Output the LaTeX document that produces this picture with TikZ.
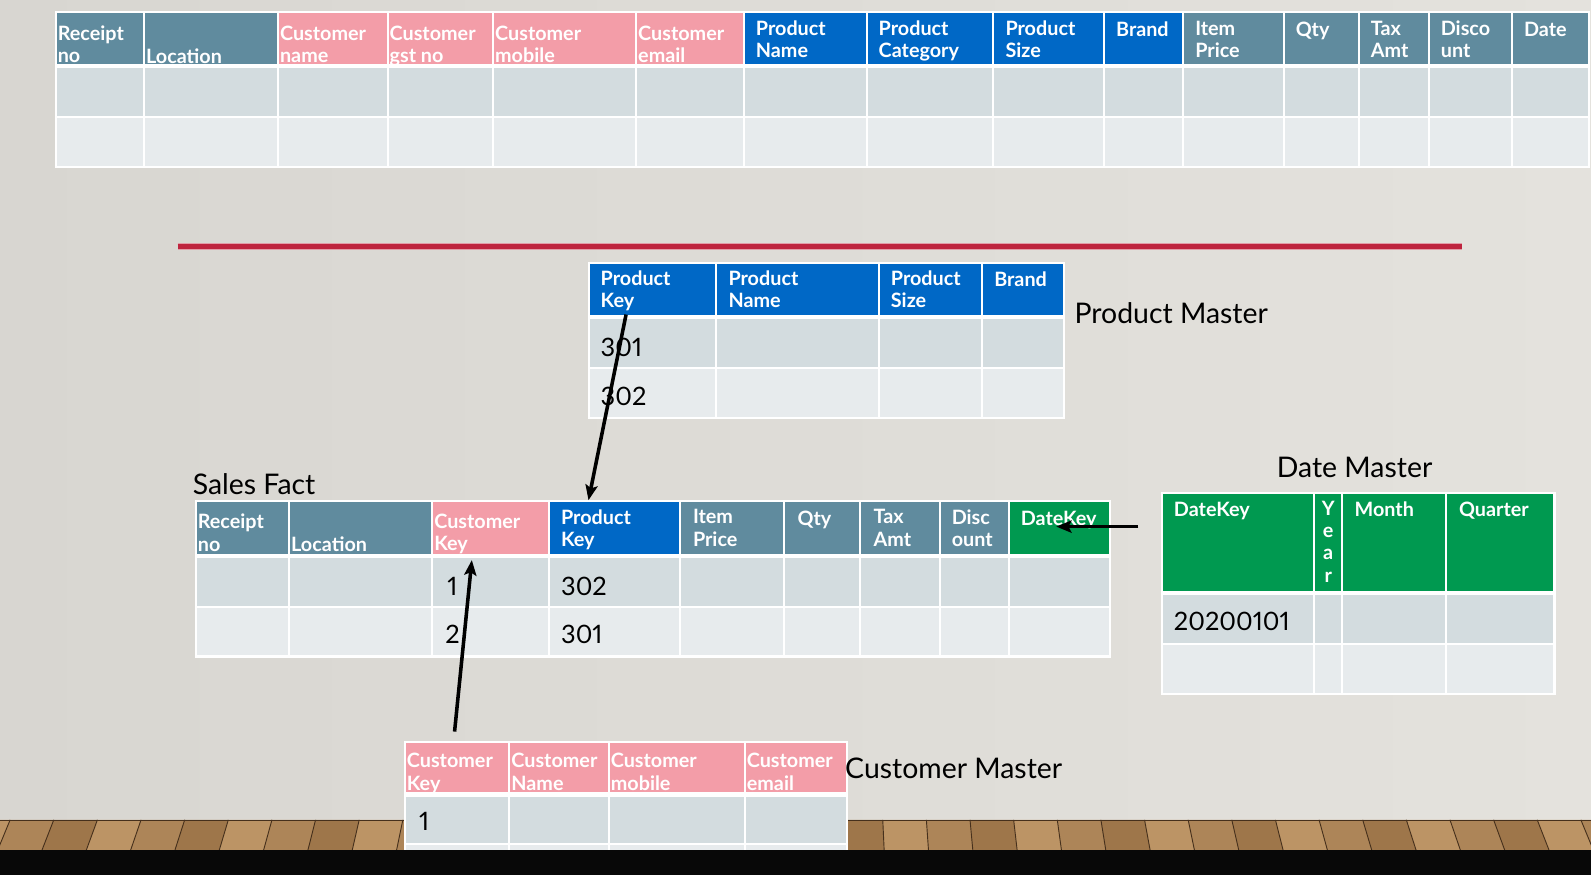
\documentclass[tikz,border=0pt]{standalone}
\usepackage{fontspec}
\setmainfont{Lato}
\usetikzlibrary{arrows.meta}

\definecolor{wallL}{RGB}{216,214,209}
\definecolor{wallM}{RGB}{232,230,225}
\definecolor{wallR}{RGB}{228,226,221}
\definecolor{slate}{RGB}{96,139,158}
\definecolor{rose}{RGB}{243,157,168}
\definecolor{prodblue}{RGB}{0,104,198}
\definecolor{dgreen}{RGB}{0,153,80}
\definecolor{rowa}{RGB}{211,220,223}
\definecolor{rowb}{RGB}{231,235,237}
\definecolor{redline}{RGB}{190,36,62}
\definecolor{woodA}{RGB}{140,100,58}
\definecolor{woodB}{RGB}{200,160,112}
\definecolor{seam}{RGB}{70,48,28}

\tikzset{
  cellbox/.style={rectangle, inner sep=0pt, outer sep=0pt, draw=none},
  hd/.style={inner sep=0pt, outer sep=0pt, text=white, align=left,
    font=\fontsize{19.5}{22}\selectfont\bfseries, execute at begin node=\strut},
  val/.style={inner sep=0pt, outer sep=0pt, text=black, anchor=base west,
    font=\fontsize{25}{30}\selectfont\addfontfeatures{Numbers=Proportional}},
  caption/.style={inner sep=0pt, outer sep=0pt, text=black,
    font=\fontsize{28}{33}\selectfont},
  link/.style={line width=3.5pt, black, -{Stealth[length=15pt,width=12pt,inset=3pt]}},
}

% one table cell: name, x1, y1, x2, y2, fill (1px white margin all round)
\newcommand{\tcell}[6]{%
  \node[cellbox, fill=#6, minimum width={#4-#2-2}, minimum height={#5-#3-2}]
    (#1) at ({(#2+#4)/2},{(#3+#5)/2}) {};}

\begin{document}
\begin{tikzpicture}[x=1pt,y=-1pt]
\useasboundingbox (0,0) rectangle (1568,862);

% wall
\shade[left color=wallL, middle color=wallM, right color=wallR] (0,0) rectangle (1568,810);

% wooden floor strip
\fill[woodA] (0,808) rectangle (1568,840);
\foreach \k in {-19,...,18} {
  \pgfmathsetmacro\xa{784+43*\k}
  \pgfmathsetmacro\xb{784+43*(\k+1)}
  \pgfmathsetmacro\xc{\xb+(\xb-784)*0.016}
  \pgfmathsetmacro\xd{\xa+(\xa-784)*0.016}
  \pgfmathtruncatemacro\p{30+25*mod(\k*5+100,3)}
  \fill[woodB!\p!woodA] (\xa,808) -- (\xb,808) -- (\xc,838) -- (\xd,838) -- cycle;
  \draw[seam, line width=0.9pt] (\xa,808) -- (\xd,838);
}
\draw[seam, line width=1.5pt] (0,808.5) -- (1568,808.5);

% ---------------- flat sales sheet ----------------
\fill[white] (54,11) rectangle (1567,166);
\foreach \xa/\xb/\c [count=\i] in {55/142/slate, 142/274/slate, 274/382/rose,
    382/486/rose, 486/627/rose, 627/733/rose, 733/854/prodblue,
    854/979/prodblue, 979/1088/prodblue, 1088/1166/prodblue, 1166/1265/slate,
    1265/1339/slate, 1339/1408/slate, 1408/1490/slate, 1490/1566/slate} {
  \tcell{th\i}{\xa}{12}{\xb}{64}{\c}
  \tcell{ta\i}{\xa}{66}{\xb}{115}{rowa}
  \tcell{tb\i}{\xa}{115}{\xb}{165}{rowb}
}
\foreach \x/\t [count=\i] in {57/{Receipt\\no}, 276/{Customer\\name},
    384/{Customer\\gst no}, 488/{Customer\\mobile}, 629/{Customer\\email}}
  \node[hd, anchor=north west] (ttb\i) at (\x,25.6) {\t};
\node[hd, anchor=north west] (ttloc) at (144,47.6) {Location};
\foreach \x/\t [count=\i] in {745/{Product\\Name}, 866/{Product\\Category},
    991/{Product\\Size}, 1100/{Brand}, 1178/{Item\\Price}, 1277/{Qty},
    1351/{Tax\\Amt}, 1420/{Disco\\unt}, 1502/{Date}}
  \node[hd, anchor=north west] (ttt\i) at (\x,20.6) {\t};

% separator
\draw[redline!45, line width=7pt] (175,243) -- (1441,243);
\draw[redline, line width=4.5pt] (175,243) -- (1441,243);

% ---------------- Product Master ----------------
\fill[white] (579,258) rectangle (1050,413);
\foreach \xa/\xb [count=\i] in {580/706, 706/866, 866/968, 968/1049} {
  \tcell{pm-h\i}{\xa}{259}{\xb}{311}{prodblue}
  \tcell{pm-a\i}{\xa}{313}{\xb}{363}{rowa}
  \tcell{pm-b\i}{\xa}{363}{\xb}{412}{rowb}
}
\foreach \x/\t [count=\i] in {592/{Product\\Key}, 718/{Product\\Name},
    878/{Product\\Size}, 980/{Brand}}
  \node[hd, anchor=north west] (pmt\i) at (\x,266.6) {\t};
\node[val] (pmv1) at (592,351.5) {301};
\node[val] (pmv2) at (592,399.5) {302};
\node[caption, anchor=base west] (pmcap) at (1059,319) {Product Master};

% ---------------- Sales Fact ----------------
\fill[white] (192,493) rectangle (1095,648);
\foreach \xa/\xb/\c [count=\i] in {193/285/slate, 285/426/slate, 426/541/rose,
    541/670/prodblue, 670/773/slate, 773/848/slate, 848/926/slate,
    926/994/slate, 994/1094/dgreen} {
  \tcell{sf-h\i}{\xa}{494}{\xb}{547}{\c}
  \tcell{sf-a\i}{\xa}{549}{\xb}{598}{rowa}
  \tcell{sf-b\i}{\xa}{598}{\xb}{647}{rowb}
}
\node[hd, anchor=north west] (sft1) at (195,506.6) {Receipt\\no};
\node[hd, anchor=north west] (sft2) at (287,528.6) {Location};
\node[hd, anchor=north west] (sft3) at (428,506.6) {Customer\\Key};
\foreach \x/\t [count=\i] in {553/{Product\\Key}, 683/{Item\\Price},
    786/{Qty}, 861/{Tax\\Amt}, 938/{Disc\\ount}, 1006/{DateKey}}
  \node[hd, anchor=north west] (sfu\i) at (\x,502.1) {\t};
\node[val] (sfv1) at (441,586.5) {1};
\node[val] (sfv2) at (439,634.5) {2};
\node[val] (sfv3) at (553,586.5) {302};
\node[val] (sfv4) at (553,634.5) {301};
\node[caption, anchor=base west] (sfcap) at (190,487) {Sales Fact};

% ---------------- Date Master ----------------
\fill[white] (1144,485) rectangle (1533,685);
\foreach \xa/\xb [count=\i] in {1145/1295, 1295/1323, 1323/1425, 1425/1532} {
  \tcell{dm-h\i}{\xa}{486}{\xb}{583}{dgreen}
  \tcell{dm-a\i}{\xa}{585}{\xb}{635}{rowa}
  \tcell{dm-b\i}{\xa}{635}{\xb}{684}{rowb}
}
\node[hd, anchor=north west] (dmt1) at (1157,493.6) {DateKey};
\node[hd, anchor=north, align=center] (dmt2) at (1309,493.6) {Y\\e\\a\\r};
\node[hd, anchor=north west] (dmt3) at (1335,493.6) {Month};
\node[hd, anchor=north west] (dmt4) at (1438,493.6) {Quarter};
\node[val] (dmv1) at (1157,621) {20200101};
\node[caption, anchor=base] (dmcap) at (1335,471) {Date Master};

% ---------------- Customer Master ----------------
\fill[white] (398,730) rectangle (836,880);
\foreach \xa/\xb [count=\i] in {399/502, 502/600, 600/734, 734/835} {
  \tcell{cm-h\i}{\xa}{731}{\xb}{782}{rose}
  \tcell{cm-a\i}{\xa}{784}{\xb}{832}{rowa}
  \tcell{cm-b\i}{\xa}{832}{\xb}{880}{rowb}
}
\foreach \x/\t [count=\i] in {401/{Customer\\Key}, 504/{Customer\\Name},
    602/{Customer\\mobile}, 736/{Customer\\email}}
  \node[hd, anchor=north west] (cmt\i) at (\x,742.6) {\t};
\node[val] (cmv1) at (413,818) {1};
\node[caption, anchor=base west] (cmcap) at (833,767) {Customer Master};

% dark band along the bottom
\fill[black!97] (0,838) rectangle (1568,862);

% key links
\draw[link] ([xshift=-26pt]pm-h1.south) -- ([xshift=-25.5pt,yshift=2pt]sf-h4.north);
\draw[link] ([xshift=-2.5pt,yshift=11pt]cm-h1.north) -- ([xshift=-18.5pt,yshift=-6pt]sf-h3.south);
\draw[link] ([xshift=-24pt,yshift=15.5pt]dm-h1.west) -- ([xshift=-3pt,yshift=1.5pt]sf-h9.center);

\end{tikzpicture}
\end{document}
